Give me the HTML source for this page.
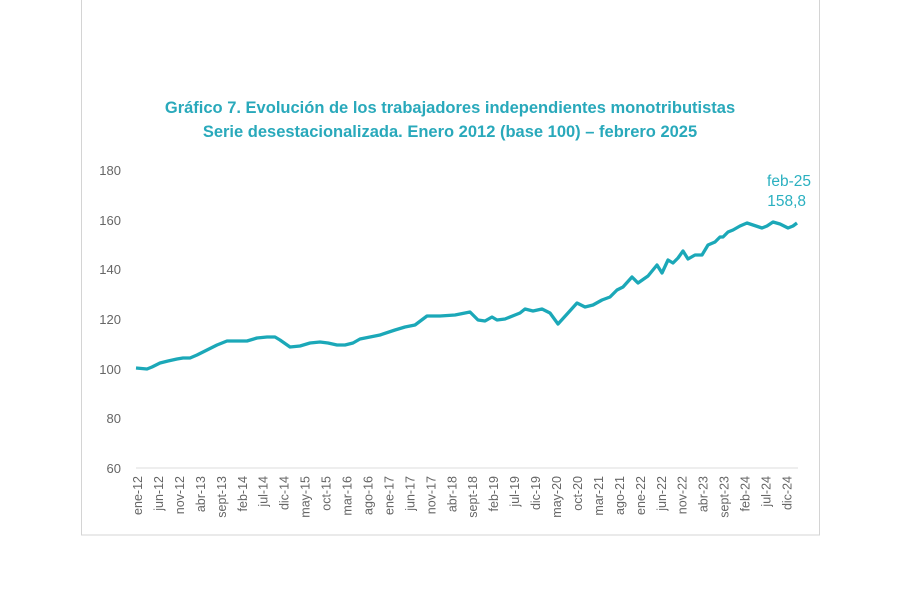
<!DOCTYPE html>
<html><head><meta charset="utf-8"><style>
body{margin:0;background:#fff;}
svg{display:block;font-family:"Liberation Sans",sans-serif;}
</style></head><body>
<svg width="900" height="600" viewBox="0 0 900 600">
<rect x="81.5" y="-1" width="738" height="536" fill="#fff" stroke="#d4d4d4" stroke-width="1"/>
<text x="450" y="113" text-anchor="middle" font-size="16.5" font-weight="bold" fill="#29a9bb">Gráfico 7. Evolución de los trabajadores independientes monotributistas</text>
<text x="450" y="137" text-anchor="middle" font-size="16.5" font-weight="bold" fill="#29a9bb">Serie desestacionalizada. Enero 2012 (base 100) – febrero 2025</text>
<g font-size="13" fill="#666" text-anchor="end">
<text x="121" y="175">180</text>
<text x="121" y="225">160</text>
<text x="121" y="274">140</text>
<text x="121" y="324">120</text>
<text x="121" y="374">100</text>
<text x="121" y="423">80</text>
<text x="121" y="473">60</text>
</g>
<line x1="136" y1="468" x2="798" y2="468" stroke="#ddd" stroke-width="1"/>
<polyline fill="none" stroke="#1ba8b8" stroke-width="3.3" stroke-linejoin="round" points="136,368 147,369 152,367 160,363 168,361 177,359 183,358 190,358 197,355 207,350 217,345 227,341 237,341 247,341 257,338 267,337 275,337 280,340 290,347 300,346 310,343 320,342 328,343 337,345 345,345 353,343 360,339 370,337 380,335 395,330 405,327 415,325 427,316 440,316 455,315 470,312 478,320 485,321 492,317 497,320 505,319 515,315 520,313 525,309 533,311 542,309 550,313 558,324 568,313 577,303 585,307 593,305 602,300 610,297 617,290 623,287 632,277 638,283 648,276 657,265 662,273 668,260 673,263 678,258 683,251 688,259 695,255 702,255 708,245 715,242 720,237 723,237 728,232 733,230 740,226 747,223 753,225 762,228 767,226 773,222 780,224 788,228 793,226 797,223"/>
<text x="811" y="186" text-anchor="end" font-size="15.5" fill="#2ab0c0">feb-25</text>
<text x="806" y="206" text-anchor="end" font-size="15.5" fill="#2ab0c0">158,8</text>
<g font-size="12.5" fill="#666" text-anchor="end" id="xl"></g>
</svg>
<script>
var n=["ene","jun","nov","abr","sept","feb","jul","dic","may","oct","mar","ago"];
var g=document.getElementById("xl"),s="";
for(var i=0;i<32;i++){var m=i*5,yr=12+Math.floor(m/12);var x=138+i*20.95+4;
s+='<text transform="translate('+x.toFixed(1)+',476) rotate(-90)">'+n[i%12]+'-'+yr+'</text>';}
g.innerHTML=s;
</script>
</body></html>
